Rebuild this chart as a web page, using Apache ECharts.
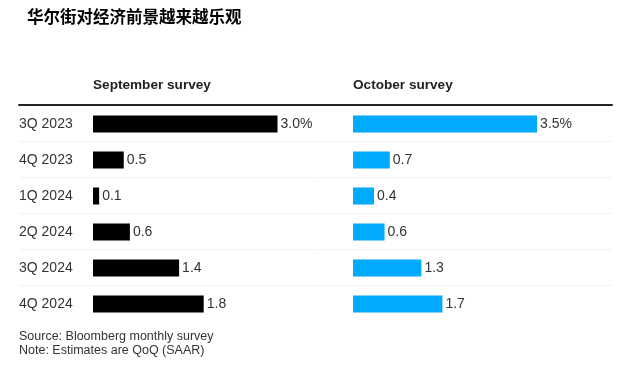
<!DOCTYPE html>
<html><head><meta charset="utf-8">
<script src="https://cdn.jsdelivr.net/npm/echarts@6/dist/echarts.min.js"></script>
<style>html,body{margin:0;padding:0;background:#fff}#c{width:642px;height:370px}</style>
</head><body><div id="c"></div>
<script>
const categories = ['3Q 2023','4Q 2023','1Q 2024','2Q 2024','3Q 2024','4Q 2024'];
const septemberValues = [3.0, 0.5, 0.1, 0.6, 1.4, 1.8];
const octoberValues = [3.5, 0.7, 0.4, 0.6, 1.3, 1.7];
const titleText = '华尔街对经济前景越来越乐观';
const panelTitles = ['September survey', 'October survey'];
const footerLines = ['Source: Bloomberg monthly survey', 'Note: Estimates are QoQ (SAAR)'];

const FONT = '"Liberation Sans", Arial, sans-serif';
const chart = echarts.init(document.getElementById('c'), null, {renderer:'canvas'});
const fmt = (p) => p.dataIndex === 0 ? p.value.toFixed(1) + '%' : String(p.value);
chart.setOption({
  backgroundColor:'#fff',
  animation:false,
  title:[
    {text:titleText, left:27, top:8, padding:0, textStyle:{fontFamily:'"Noto Sans CJK SC", sans-serif', fontWeight:'bold', fontSize:16.5, color:'#000'}},
    {text:panelTitles[0], left:93, top:78, padding:0, textStyle:{fontFamily:FONT, fontWeight:'bold', fontSize:13.6, color:'#222'}},
    {text:panelTitles[1], left:353, top:78, padding:0, textStyle:{fontFamily:FONT, fontWeight:'bold', fontSize:13.6, color:'#222'}},
    {text:footerLines.join('\n'), left:19, top:330, padding:0, textStyle:{fontFamily:FONT, fontWeight:'normal', fontSize:12.5, lineHeight:14, color:'#333'}}
  ],
  grid:[
    {left:19, width:593, top:105, height:180},
    {left:93, width:246, top:106, height:216},
    {left:353, width:210.4, top:106, height:216}
  ],
  xAxis:[
    {gridIndex:0, type:'value', position:'top', min:0, max:1, axisLine:{show:true, lineStyle:{color:'#222', width:2}}, axisTick:{show:false}, axisLabel:{show:false}, splitLine:{show:false}},
    {gridIndex:1, type:'value', min:0, max:4, show:false},
    {gridIndex:2, type:'value', min:0, max:4, show:false}
  ],
  yAxis:[
    {gridIndex:0, type:'category', data:categories.slice(0, 5), inverse:true, axisLine:{show:false}, axisTick:{show:false}, axisLabel:{show:false}, splitLine:{show:true, lineStyle:{color:'#f2f2f2', width:1}}},
    {gridIndex:1, type:'category', data:categories, inverse:true, axisLine:{show:false}, axisTick:{show:false},
      axisLabel:{align:'left', margin:74, fontFamily:FONT, fontSize:14, color:'#333'}},
    {gridIndex:2, type:'category', data:categories, inverse:true, show:false}
  ],
  series:[
    {type:'bar', xAxisIndex:1, yAxisIndex:1, data:septemberValues, barWidth:17, itemStyle:{color:'#000'},
      label:{show:true, position:'right', distance:3, formatter:fmt, fontFamily:FONT, fontSize:14, color:'#333'}},
    {type:'bar', xAxisIndex:2, yAxisIndex:2, data:octoberValues, barWidth:17, itemStyle:{color:'#00aaff'},
      label:{show:true, position:'right', distance:3, formatter:fmt, fontFamily:FONT, fontSize:14, color:'#333'}}
  ]
});
</script></body></html>
